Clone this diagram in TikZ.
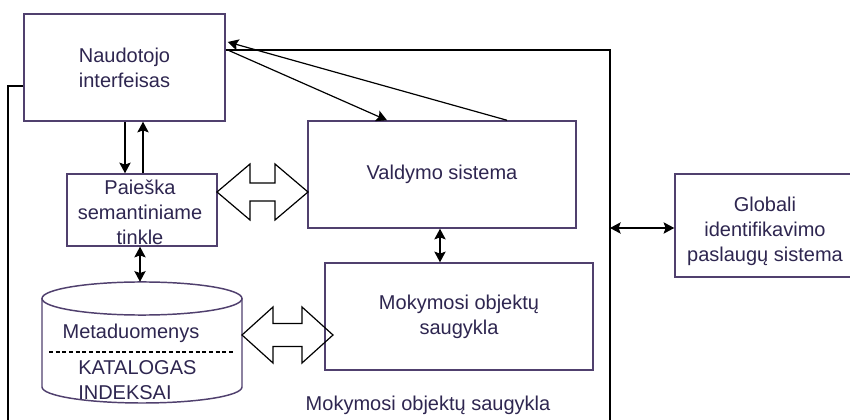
\documentclass[tikz,border=0pt]{standalone}
\usepackage{fontspec}
\setmainfont{Liberation Sans}
\usetikzlibrary{arrows.meta,calc}
\definecolor{boxline}{RGB}{80,64,110}
\definecolor{txt}{RGB}{46,38,80}

\begin{document}
\begin{tikzpicture}[x=0.75pt,y=-0.75pt,
  >={Stealth[length=8pt,width=8.5pt,inset=1.5pt]},
  box/.style={draw=boxline, line width=1.1pt, fill=white, align=center,
    text=txt, font=\fontsize{15}{18.75}\selectfont, inner sep=0pt},
  plain/.style={text=txt, font=\fontsize{15}{18.75}\selectfont, inner sep=0pt, align=center},
  link/.style={line width=0.9pt, draw=black},
  blockarrow/.style={line width=0.9pt, draw=black, line join=miter}]
\useasboundingbox (0,0) rectangle (850,420);

% outer frame
\coordinate (frR) at (610,228);
% main blocks
\node[box, minimum width=150.75pt, minimum height=80.25pt] (ui) at (124.5,67.5) {Naudotojo\\interfeisas};
\node[box, minimum width=201pt, minimum height=80.25pt] (vald) at (442,174.5) {Valdymo sistema};
\node[box, minimum width=112.5pt, minimum height=54pt] (pai) at (142,210) {};
\node[plain] (paitxt) at (140,212.5) {Paieška\\semantiniame\\tinkle};
\node[box, minimum width=201pt, minimum height=80.25pt] (mok) at (459,316.5) {Mokymosi objektų\\saugykla};
% the identification service box runs past the right edge
\node[box, minimum width=150pt, minimum height=77.25pt] (glob) at (775,225.5) {};
\node[plain] (globtxt) at (765,231) {Globali\\identifikavimo\\paslaugų sistema};

% metadata store (cylinder)
\node[minimum width=150pt, minimum height=90.75pt, inner sep=0pt] (db) at (142,342.5) {};
\draw[draw=boxline, line width=1.1pt, fill=white]
  (42,298.5) -- (42,387) arc[start angle=180, end angle=360, x radius=75pt, y radius=12pt]
  -- (242,298.5);
\draw[draw=boxline, line width=1.1pt, fill=white] (142,298.5) ellipse[x radius=75pt, y radius=12.4pt];
\draw[line width=0.8pt, dash pattern=on 3pt off 2pt] (49,352) -- (233,352);
\node[plain] (meta) at (131,333) {Metaduomenys};
\node[plain, anchor=west] (kat) at (78,368) {KATALOGAS};
\node[plain, anchor=west] (idx) at (78,393) {INDEKSAI};

\node[plain] (lbl) at (428,405) {Mokymosi objektų saugykla};

% frame lines
\draw[link] ($(ui.east)+(0,-17.5)$) -- (610,50) -- (610,425);
\draw[link] ($(ui.west)+(0,18.5)$) -- (8,86) -- (8,425);

% connectors
\draw[link,->] ($(ui.east)+(2,-17.5)$) -- ($(vald.north)+(-55,0)$);
\draw[link,->] ($(vald.north)+(65,0)$) -- ($(ui.east)+(2,-25.5)$);
\draw[link,->] ($(ui.south)+(0.5,0)$) -- ($(pai.north)+(-17,0)$);
\draw[link,->] ($(pai.north)+(1,0)$) -- ($(ui.south)+(18.5,0)$);
\draw[link,<->] ($(pai.south)+(-2,0)$) -- ($(db.north)+(-2,0)$);
\draw[link,<->] ($(vald.south)+(-2,0)$) -- ($(mok.north)+(-19,0)$);
\draw[link,<->] (frR) -- (frR -| glob.west);

% block arrows
\draw[blockarrow] (217,192) -- (250,164) -- (250,183) -- (275,183) -- (275,164) -- (308,192)
  -- (275,220) -- (275,201) -- (250,201) -- (250,220) -- cycle;
\draw[blockarrow] (242,335) -- (273,307) -- (273,323.5) -- (302,323.5) -- (302,307) -- (333,335)
  -- (302,363) -- (302,346.5) -- (273,346.5) -- (273,363) -- cycle;
\end{tikzpicture}
\end{document}
